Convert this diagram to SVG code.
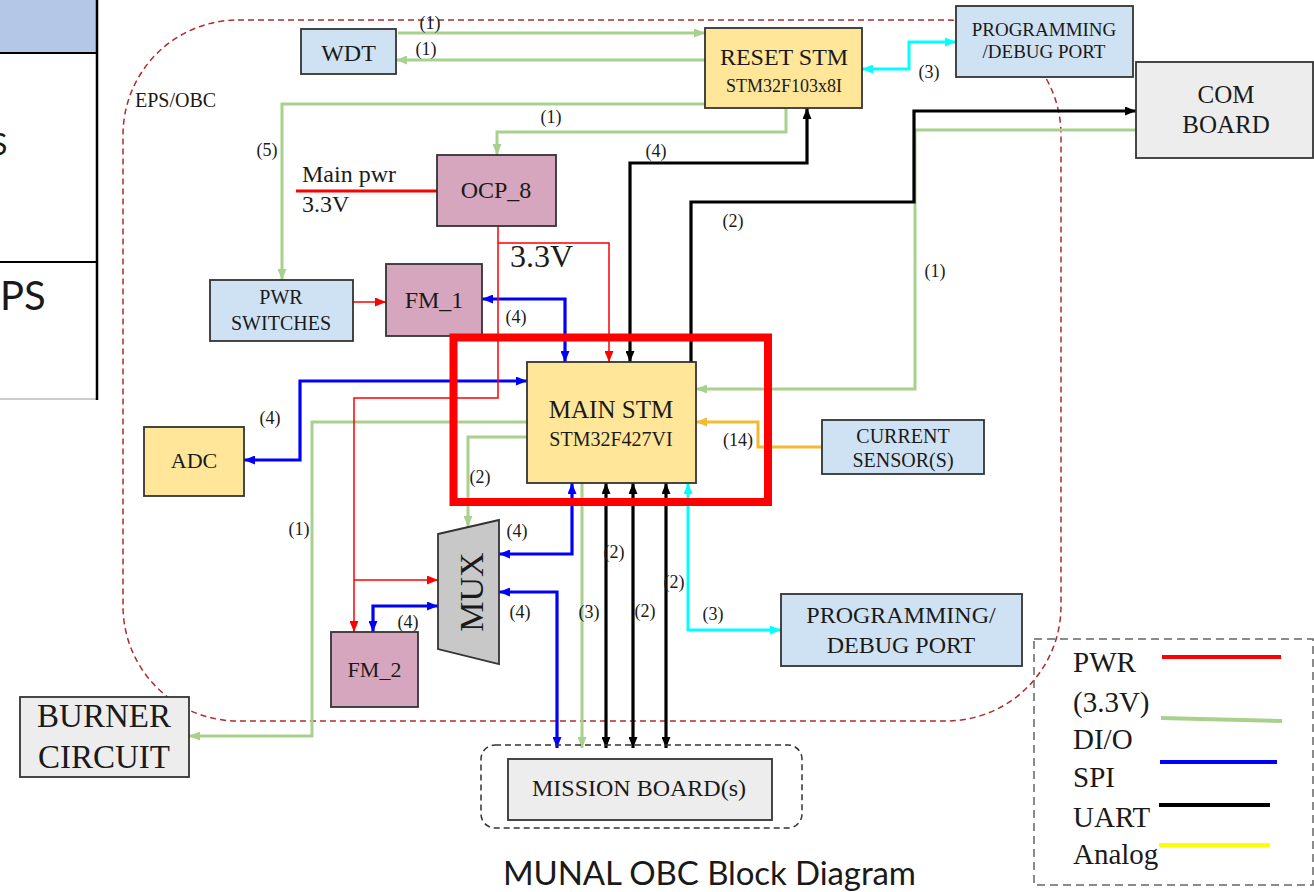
<svg xmlns="http://www.w3.org/2000/svg" width="1314" height="892" viewBox="0 0 1314 892">
<style>
.nb{fill:#CFE2F3;stroke:#333;stroke-width:1.8}
.ny{fill:#FFE699;stroke:#333;stroke-width:1.8}
.nm{fill:#D5A6BD;stroke:#333;stroke-width:1.8}
.ng{fill:#EDEDED;stroke:#333;stroke-width:1.8}
text{font-family:"Liberation Serif","Times New Roman",serif;fill:#1a1a1a}
.c{text-anchor:middle}
.lb{font-size:18px}
.cg{fill:none;stroke:#A9D18E;stroke-width:3}
.ck{fill:none;stroke:#000;stroke-width:3.2}
.cb{fill:none;stroke:#0000FF;stroke-width:3.2}
.cr{fill:none;stroke:#FF0000;stroke-width:1.5}
.cc{fill:none;stroke:#00FFFF;stroke-width:3}
.co{fill:none;stroke:#F3BA2F;stroke-width:3}
</style>
<defs>
<marker id="ag" viewBox="0 0 11 9" refX="11" refY="4.5" markerWidth="11" markerHeight="9" markerUnits="userSpaceOnUse" orient="auto-start-reverse"><path d="M0,0 L11,4.5 L0,9 z" fill="#A9D18E"/></marker>
<marker id="ak" viewBox="0 0 11 9" refX="11" refY="4.5" markerWidth="11" markerHeight="9" markerUnits="userSpaceOnUse" orient="auto-start-reverse"><path d="M0,0 L11,4.5 L0,9 z" fill="#000"/></marker>
<marker id="ab" viewBox="0 0 11 9" refX="11" refY="4.5" markerWidth="11" markerHeight="9" markerUnits="userSpaceOnUse" orient="auto-start-reverse"><path d="M0,0 L11,4.5 L0,9 z" fill="#0000FF"/></marker>
<marker id="ar" viewBox="0 0 11 9" refX="11" refY="4.5" markerWidth="11" markerHeight="9" markerUnits="userSpaceOnUse" orient="auto-start-reverse"><path d="M0,0 L11,4.5 L0,9 z" fill="#FF0000"/></marker>
<marker id="ac" viewBox="0 0 11 9" refX="11" refY="4.5" markerWidth="11" markerHeight="9" markerUnits="userSpaceOnUse" orient="auto-start-reverse"><path d="M0,0 L11,4.5 L0,9 z" fill="#00FFFF"/></marker>
<marker id="ao" viewBox="0 0 11 9" refX="11" refY="4.5" markerWidth="11" markerHeight="9" markerUnits="userSpaceOnUse" orient="auto-start-reverse"><path d="M0,0 L11,4.5 L0,9 z" fill="#F3BA2F"/></marker>
</defs>
<rect width="1314" height="892" fill="#fff"/>

<g id="side-table">
<rect x="0" y="0" width="97" height="53" fill="#B4C7E7"/>
<line x1="0" y1="53" x2="97" y2="53" stroke="#000" stroke-width="2"/>
<line x1="0" y1="262" x2="97" y2="262" stroke="#000" stroke-width="2"/>
<line x1="0" y1="399" x2="97" y2="399" stroke="#999" stroke-width="1"/>
<line x1="97" y1="0" x2="97" y2="400" stroke="#000" stroke-width="2.5"/>
<text x="-9" y="155" style="font-family:Lato,'Open Sans',sans-serif;font-size:30px">S</text>
<text x="0" y="310" style="font-family:Lato,'Open Sans',sans-serif;font-size:40px">PS</text>
</g>

<g id="eps-obc-boundary">
<rect x="123" y="20" width="938" height="701" rx="115" ry="115" fill="none" stroke="#B22A2A" stroke-width="1.5" stroke-dasharray="6 4"/>
<text x="135" y="107" style="font-size:20px">EPS/OBC</text>
</g>

<g id="connectors">
<path class="cg" d="M398,33 H705" marker-end="url(#ag)"/>
<path class="cg" d="M705,60 H396" marker-end="url(#ag)"/>
<path class="cg" d="M705,104 H282 V280" marker-end="url(#ag)"/>
<path class="cg" d="M786,108 V132 H497 V155" marker-end="url(#ag)"/>
<path class="cg" d="M1136,130 H915 V389 H696" marker-end="url(#ag)"/>
<path class="cg" d="M527,422 H312 V736 H189" marker-end="url(#ag)"/>
<path class="cg" d="M527,437 H468 V527" marker-end="url(#ag)"/>
<path class="cg" d="M582,483 V748" marker-end="url(#ag)"/>
<path class="ck" d="M630,362 V163 H807 V108" marker-start="url(#ak)" marker-end="url(#ak)"/>
<path class="ck" d="M691,362 V202 H914 V111 H1136" marker-end="url(#ak)"/>
<path class="ck" d="M606,483 V748" marker-start="url(#ak)" marker-end="url(#ak)"/>
<path class="ck" d="M633,483 V748" marker-start="url(#ak)" marker-end="url(#ak)"/>
<path class="ck" d="M666,483 V748" marker-start="url(#ak)" marker-end="url(#ak)"/>
<path class="cb" d="M482,299 H565 V362" marker-start="url(#ab)" marker-end="url(#ab)"/>
<path class="cb" d="M527,381 H300 V460 H244" marker-start="url(#ab)" marker-end="url(#ab)"/>
<path class="cb" d="M572,483 V554 H499" marker-start="url(#ab)" marker-end="url(#ab)"/>
<path class="cb" d="M499,592 H557 V748" marker-start="url(#ab)" marker-end="url(#ab)"/>
<path class="cb" d="M438,606 H373 V632" marker-start="url(#ab)" marker-end="url(#ab)"/>
<path d="M296,191 H437" fill="none" stroke="#FF0000" stroke-width="3"/>
<path class="cr" d="M498,226 V398 H354 V632" marker-end="url(#ar)"/>
<path class="cr" d="M354,580 H438" marker-end="url(#ar)"/>
<path class="cr" d="M498,243 H609 V362" marker-end="url(#ar)"/>
<path class="cr" d="M353,302 H386" marker-end="url(#ar)"/>
<path class="cc" d="M862,69 H909 V42 H956" marker-start="url(#ac)" marker-end="url(#ac)"/>
<path class="cc" d="M688,483 V630 H781" marker-start="url(#ac)" marker-end="url(#ac)"/>
<path class="co" d="M822,447 H758 V422 H696" marker-end="url(#ao)"/>
<text class="lb c" x="430" y="29">(1)</text>
<text class="lb c" x="426" y="55">(1)</text>
<text class="lb c" x="267" y="156">(5)</text>
<text class="lb c" x="551" y="123">(1)</text>
<text class="lb c" x="656" y="157">(4)</text>
<text class="lb c" x="733" y="227">(2)</text>
<text class="lb c" x="935" y="277">(1)</text>
<text class="lb c" x="929" y="78">(3)</text>
<text class="lb c" x="516" y="323">(4)</text>
<text class="lb c" x="270" y="424">(4)</text>
<text class="lb c" x="738" y="446">(14)</text>
<text class="lb c" x="299" y="535">(1)</text>
<text class="lb c" x="480" y="483">(2)</text>
<text class="lb c" x="517" y="537">(4)</text>
<text class="lb c" x="520" y="618">(4)</text>
<text class="lb c" x="408" y="628">(4)</text>
<text class="lb c" x="589" y="618">(3)</text>
<text class="lb c" x="614" y="558">(2)</text>
<text class="lb c" x="645" y="617">(2)</text>
<text class="lb c" x="674" y="588">(2)</text>
<text class="lb c" x="713" y="620">(3)</text>
<text x="302" y="182" style="font-size:24px">Main pwr</text>
<text x="302" y="212" style="font-size:24px">3.3V</text>
<text x="510" y="267" style="font-size:32px">3.3V</text>
</g>

<g id="wdt"><rect class="nb" x="301" y="29" width="95" height="45"/><text class="c" x="348.5" y="61" style="font-size:24px">WDT</text></g>
<g id="reset-stm"><rect class="ny" x="705" y="28" width="157" height="80"/><text class="c" x="784" y="65" style="font-size:24px">RESET STM</text><text class="c" x="784" y="92" style="font-size:18px">STM32F103x8I</text></g>
<g id="prog-debug-top"><rect class="nb" x="956" y="6" width="177" height="71"/><text class="c" x="1044" y="36" style="font-size:19px">PROGRAMMING</text><text class="c" x="1044" y="58" style="font-size:19px">/DEBUG PORT</text></g>
<g id="com-board"><rect class="ng" x="1136" y="62" width="177" height="96"/><text class="c" x="1226" y="103" style="font-size:25px">COM</text><text class="c" x="1226" y="133" style="font-size:25px">BOARD</text></g>
<g id="ocp-8"><rect class="nm" x="437" y="155" width="119" height="71"/><text class="c" x="496" y="198" style="font-size:24px">OCP_8</text></g>
<g id="pwr-switches"><rect class="nb" x="210" y="280" width="143" height="61"/><text class="c" x="281" y="304" style="font-size:20px">PWR</text><text class="c" x="281" y="330" style="font-size:20px">SWITCHES</text></g>
<g id="fm-1"><rect class="nm" x="386" y="264" width="96" height="72"/><text class="c" x="434" y="308" style="font-size:24px">FM_1</text></g>
<g id="main-stm"><rect class="ny" x="527" y="362" width="169" height="121"/><text class="c" x="611" y="418" style="font-size:25px">MAIN STM</text><text class="c" x="611" y="446" style="font-size:20px">STM32F427VI</text></g>
<g id="current-sensor"><rect class="nb" x="822" y="420" width="162" height="54"/><text class="c" x="903" y="443" style="font-size:20px">CURRENT</text><text class="c" x="903" y="467" style="font-size:20px">SENSOR(S)</text></g>
<g id="adc"><rect class="ny" x="144" y="427" width="100" height="69"/><text class="c" x="194" y="468" style="font-size:22px">ADC</text></g>
<g id="mux"><polygon points="438,534 499,520 499,664 438,649" fill="#C8C8C8" stroke="#333" stroke-width="1.8"/><text class="c" transform="translate(483,592) rotate(-90)" style="font-size:34px">MUX</text></g>
<g id="fm-2"><rect class="nm" x="331" y="632" width="87" height="75"/><text class="c" x="374.5" y="677" style="font-size:22px">FM_2</text></g>
<g id="burner-circuit"><rect class="ng" x="20" y="697" width="169" height="80"/><text class="c" x="104" y="727" style="font-size:33px">BURNER</text><text class="c" x="104" y="768" style="font-size:33px">CIRCUIT</text></g>
<g id="mission-board"><rect x="481" y="745" width="321" height="83" rx="14" fill="none" stroke="#333" stroke-width="1.5" stroke-dasharray="6 4"/><rect class="ng" x="508" y="759" width="264" height="61"/><text class="c" x="639" y="796" style="font-size:24px">MISSION BOARD(s)</text></g>
<g id="prog-debug-bottom"><rect class="nb" x="781" y="594" width="241" height="72"/><text class="c" x="901" y="623" style="font-size:24px">PROGRAMMING/</text><text class="c" x="901" y="653" style="font-size:24px">DEBUG PORT</text></g>

<g id="highlight"><rect x="453.5" y="337.5" width="314.5" height="164.5" fill="none" stroke="#FF0000" stroke-width="8"/></g>

<g id="legend">
<rect x="1034" y="639" width="279" height="246" fill="none" stroke="#666" stroke-width="1.5" stroke-dasharray="8 5"/>
<text x="1073" y="672" style="font-size:29px">PWR</text>
<text x="1073" y="712" style="font-size:29px">(3.3V)</text>
<text x="1073" y="749" style="font-size:29px">DI/O</text>
<text x="1073" y="787" style="font-size:29px">SPI</text>
<text x="1073" y="827" style="font-size:29px">UART</text>
<text x="1073" y="864" style="font-size:29px">Analog</text>
<line x1="1162" y1="657" x2="1281" y2="657" stroke="#FF0000" stroke-width="4"/>
<line x1="1161" y1="718" x2="1282" y2="721" stroke="#A9D18E" stroke-width="4"/>
<line x1="1160" y1="762" x2="1277" y2="762" stroke="#0000FF" stroke-width="4"/>
<line x1="1159" y1="805" x2="1270" y2="805" stroke="#000" stroke-width="4"/>
<line x1="1159" y1="845" x2="1270" y2="845" stroke="#FFFF00" stroke-width="4"/>
</g>

<text x="709.5" y="885" text-anchor="middle" textLength="413" style="font-family:Lato,'Open Sans',sans-serif;font-size:33px">MUNAL OBC Block Diagram</text>
</svg>
